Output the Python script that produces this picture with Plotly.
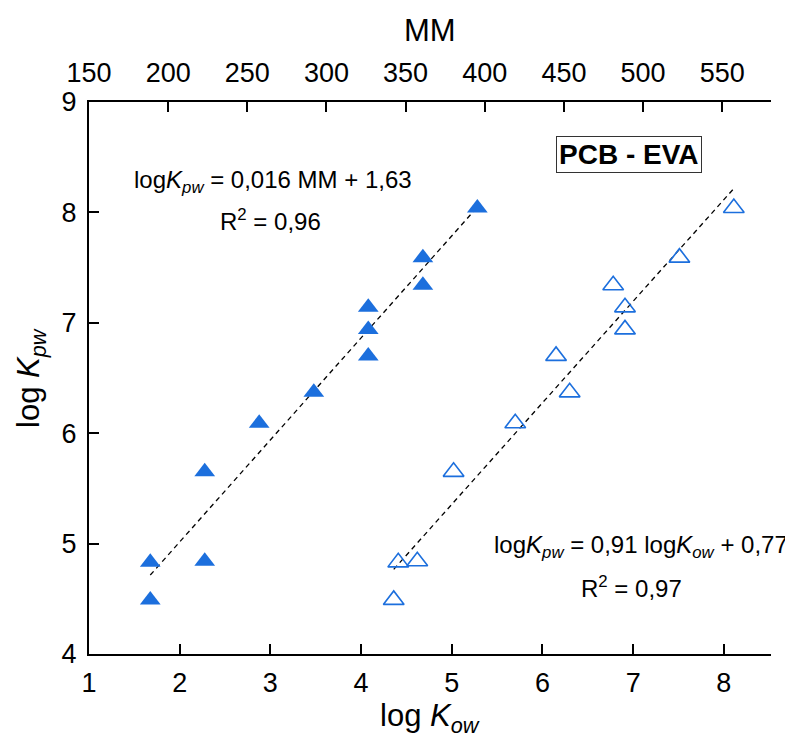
import numpy as np
import plotly.graph_objects as go

# ---- data ----
# PCB homologues: molar mass (top axis) vs log Kpw  (filled triangles)
mm_values = [188.7, 188.7, 223.1, 223.1, 257.5, 292.0, 326.4, 326.4, 326.4, 360.9, 360.9, 395.3]
logkpw_mm = [4.49, 4.83, 4.84, 5.65, 6.09, 6.37, 7.14, 6.94, 6.70, 7.59, 7.34, 8.04]

# log Kow (bottom axis) vs log Kpw (open triangles)
logkow_values = [4.36, 4.41, 4.62, 5.02, 5.70, 6.15, 6.30, 6.78, 6.91, 6.91, 7.51, 8.11]
logkpw_kow = [4.49, 4.83, 4.84, 5.65, 6.09, 6.70, 6.37, 7.34, 7.14, 6.94, 7.59, 8.04]

x_ticks = [1, 2, 3, 4, 5, 6, 7, 8]
mm_ticks = [150, 200, 250, 300, 350, 400, 450, 500, 550]
y_ticks = [4, 5, 6, 7, 8, 9]

BLUE = "#1c6fdd"
FONT = "Liberation Sans, Arial, sans-serif"

# regression lines
s1, i1 = np.polyfit(mm_values, logkpw_mm, 1)
mm_line = np.array([min(mm_values), max(mm_values)])
s2, i2 = np.polyfit(logkow_values, logkpw_kow, 1)
kow_line = np.array([min(logkow_values), max(logkow_values)])

fig = go.Figure()

fig.add_trace(go.Scatter(x=mm_line, y=s1 * mm_line + i1, xaxis="x2", yaxis="y",
                         mode="lines", line=dict(color="black", width=1.3, dash="5px,4px"),
                         showlegend=False, hoverinfo="skip"))
fig.add_trace(go.Scatter(x=kow_line, y=s2 * kow_line + i2, xaxis="x", yaxis="y",
                         mode="lines", line=dict(color="black", width=1.3, dash="5px,4px"),
                         showlegend=False, hoverinfo="skip"))

fig.add_trace(go.Scatter(x=mm_values, y=logkpw_mm, xaxis="x2", yaxis="y", mode="markers",
                         marker=dict(symbol="triangle-up", size=18, color=BLUE,
                                     line=dict(width=0)),
                         showlegend=False))
fig.add_trace(go.Scatter(x=logkow_values, y=logkpw_kow, xaxis="x", yaxis="y", mode="markers",
                         marker=dict(symbol="triangle-up-open", size=18, color=BLUE,
                                     line=dict(width=1.6, color=BLUE)),
                         showlegend=False))

axis_common = dict(showline=True, linecolor="black", linewidth=2, ticks="inside",
                   ticklen=10, tickwidth=2, tickcolor="black", showgrid=False,
                   zeroline=False, automargin=False,
                   tickfont=dict(family=FONT, size=27, color="black"))

# the page adds an 8px body margin at top/left, so the figure is 8px smaller
fig.update_layout(
    width=785, height=734,
    margin=dict(l=81, r=22, t=94, b=88, autoexpand=False),
    paper_bgcolor="white", plot_bgcolor="white",
    xaxis=dict(range=[1, 8.52], tickvals=x_ticks, ticklabelstandoff=4, **axis_common),
    xaxis2=dict(range=[150, 580.8], tickvals=mm_ticks, overlaying="x", side="top",
                ticklabelstandoff=7, **axis_common),
    yaxis=dict(range=[4, 9], tickvals=y_ticks, ticklabelstandoff=5, **axis_common),
)

ann_font = dict(family=FONT, size=24, color="black")
annotations = [
    dict(x=3.026, y=8.278, xref="x", yref="y", showarrow=False, font=ann_font,
         xanchor="center", yanchor="middle",
         text="log<i>K</i><sub><i>pw</i></sub> = 0,016 MM + 1,63"),
    dict(x=3.0, y=7.93, xref="x", yref="y", showarrow=False, font=ann_font,
         xanchor="center", yanchor="middle", text="R<sup>2</sup> = 0,96"),
    dict(x=7.089, y=4.972, xref="x", yref="y", showarrow=False, font=ann_font,
         xanchor="center", yanchor="middle",
         text="log<i>K</i><sub><i>pw</i></sub> = 0,91 log<i>K</i><sub><i>ow</i></sub> + 0,77"),
    dict(x=6.979, y=4.61, xref="x", yref="y", showarrow=False, font=ann_font,
         xanchor="center", yanchor="middle", text="R<sup>2</sup> = 0,97"),
    dict(x=6.952, y=8.52, xref="x", yref="y", showarrow=False,
         xanchor="center", yanchor="middle",
         font=dict(family=FONT, size=28, color="black"),
         text="<b>PCB - EVA</b>", bordercolor="#333333", borderwidth=1, borderpad=2,
         bgcolor="white"),
    # axis titles
    dict(x=0.5, y=0, xref="paper", yref="paper", yshift=-64, showarrow=False,
         xanchor="center", yanchor="middle",
         font=dict(family=FONT, size=31, color="black"),
         text="log <i>K</i><sub><i>ow</i></sub>"),
    dict(x=0.5, y=1, xref="paper", yref="paper", yshift=72, showarrow=False,
         xanchor="center", yanchor="middle",
         font=dict(family=FONT, size=31, color="black"), text="MM"),
    dict(x=0, y=0.5, xref="paper", yref="paper", xshift=-58, showarrow=False, textangle=-90,
         xanchor="center", yanchor="middle",
         font=dict(family=FONT, size=31, color="black"),
         text="log <i>K</i><sub><i>pw</i></sub>"),
]
fig.update_layout(annotations=annotations)

fig.write_html("out.html")
